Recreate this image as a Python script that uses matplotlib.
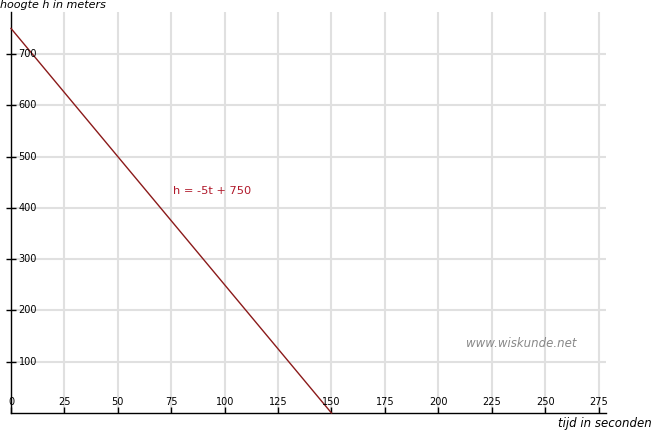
import matplotlib
matplotlib.use("Agg")
import matplotlib.pyplot as plt
import matplotlib.transforms as mtransforms
import numpy as np

# data
t_values = [0, 150]
h_values = [750, 0]
x_ticks = [0, 25, 50, 75, 100, 125, 150, 175, 200, 225, 250, 275]
y_ticks = [100, 200, 300, 400, 500, 600, 700]
formula = "h = -5t + 750"
watermark = "www.wiskunde.net"
xlabel = "tijd in seconden"
ylabel = "hoogte h in meters"

W, H = 653, 430
fig = plt.figure(figsize=(W / 100, H / 100), dpi=100)
left, right, top, bottom = 11, 606, 12, 413
ax = fig.add_axes([left / W, (H - bottom) / H, (right - left) / W, (bottom - top) / H])
ax.set_xlim(0, 278.5)
ax.set_ylim(0, 782)

for s in ["top", "right"]:
    ax.spines[s].set_visible(False)
for s in ["left", "bottom"]:
    ax.spines[s].set_color("black")
    ax.spines[s].set_linewidth(1.0)

ax.set_xticks(x_ticks)
ax.set_yticks(y_ticks)
ax.tick_params(axis="x", direction="in", length=4.5, width=1, color="black", labelbottom=False)
ax.tick_params(axis="y", direction="inout", length=7, width=1, color="black", labelleft=False)
ax.grid(True, color="#e0e0e0", linewidth=1.5)
ax.set_axisbelow(True)

fs = 7
# y tick labels, right of axis
ytr = mtransforms.offset_copy(ax.get_yaxis_transform(), fig=fig, x=5.5, y=0, units="points")
for v in y_ticks:
    ax.text(0, v, str(v), transform=ytr, ha="left", va="center", fontsize=fs,
            family="DejaVu Sans", clip_on=False, zorder=4)
# x tick labels, above axis
xtr = mtransforms.offset_copy(ax.get_xaxis_transform(), fig=fig, x=0, y=4.5, units="points")
for v in x_ticks:
    ax.text(v, 0, str(v), transform=xtr, ha="center", va="bottom", fontsize=fs,
            family="DejaVu Sans", clip_on=False, zorder=4)

ax.plot(t_values, h_values, color="#8b1a1a", linewidth=1.0, clip_on=False, zorder=3)

ax.text(76, 432, formula, color="#b0182a", fontsize=8.2, ha="left", va="center")
ax.text(239, 136, watermark, color="#888888", fontsize=8.5, style="italic",
        ha="center", va="center")

fig.text(0 / W, 1 - 5 / H, ylabel, fontsize=8, style="italic", ha="left", va="center")
fig.text(1 - 1 / W, 1 - 423 / H, xlabel, fontsize=8.5, style="italic", ha="right", va="center")

fig.savefig("out.png", dpi=100)
